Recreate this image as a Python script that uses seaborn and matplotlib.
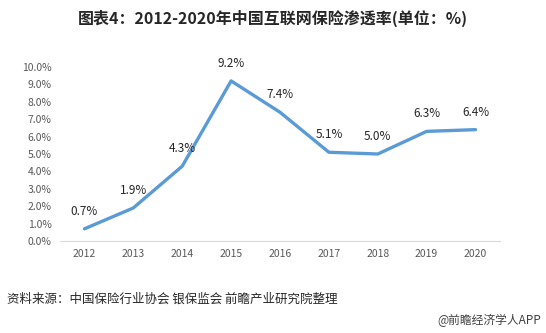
import matplotlib
matplotlib.use("Agg")
import matplotlib.pyplot as plt
import seaborn as sns
import pandas as pd
from matplotlib.ticker import FuncFormatter

years = ["2012", "2013", "2014", "2015", "2016", "2017", "2018", "2019", "2020"]
rates = [0.7, 1.9, 4.3, 9.2, 7.4, 5.1, 5.0, 6.3, 6.4]
title = "图表4：2012-2020年中国互联网保险渗透率(单位：%)"
source = "资料来源：中国保险行业协会 银保监会 前瞻产业研究院整理"
credit = "@前瞻经济学人APP"

sns.set_theme(style="white")
plt.rcParams['font.family'] = ['Noto Sans CJK SC', 'DejaVu Sans']

df = pd.DataFrame({"year": years, "rate": rates})

fig = plt.figure(figsize=(5.46, 3.33), dpi=100)
ax = fig.add_axes([60/546, 1-241/333, 440/546, 174/333])
sns.lineplot(data=df, x="year", y="rate", ax=ax, color="#5B9BD5", linewidth=2.4, sort=False)

ax.set_xlim(-0.5, len(years) - 0.5)
ax.set_ylim(0, 10)
ax.set_yticks([i for i in range(0, 11)])
ax.yaxis.set_major_formatter(FuncFormatter(lambda v, p: f"{v:.1f}%"))
ax.tick_params(axis='both', labelsize=7.5, colors="#595959", length=0, pad=6)
ax.set_xlabel("")
ax.set_ylabel("")
for s in ["top", "right", "left"]:
    ax.spines[s].set_visible(False)
ax.spines["bottom"].set_color("#D9D9D9")
ax.spines["bottom"].set_linewidth(0.8)

for i, v in enumerate(rates):
    ax.annotate(f"{v}%", (i, v), xytext=(0, 8), textcoords="offset points",
                ha="center", va="bottom", fontsize=8.5, color="#262626")

fig.text(0.5, 1-18/333, title, ha="center", va="center", fontsize=11.5,
         fontweight="bold", color="#262626")
fig.text(7/546, 1-299/333, source, ha="left", va="center", fontsize=9, color="#262626")
fig.text(541/546, 1-320/333, credit, ha="right", va="center", fontsize=8.5, color="#404040")

fig.savefig("out.png", dpi=100)
